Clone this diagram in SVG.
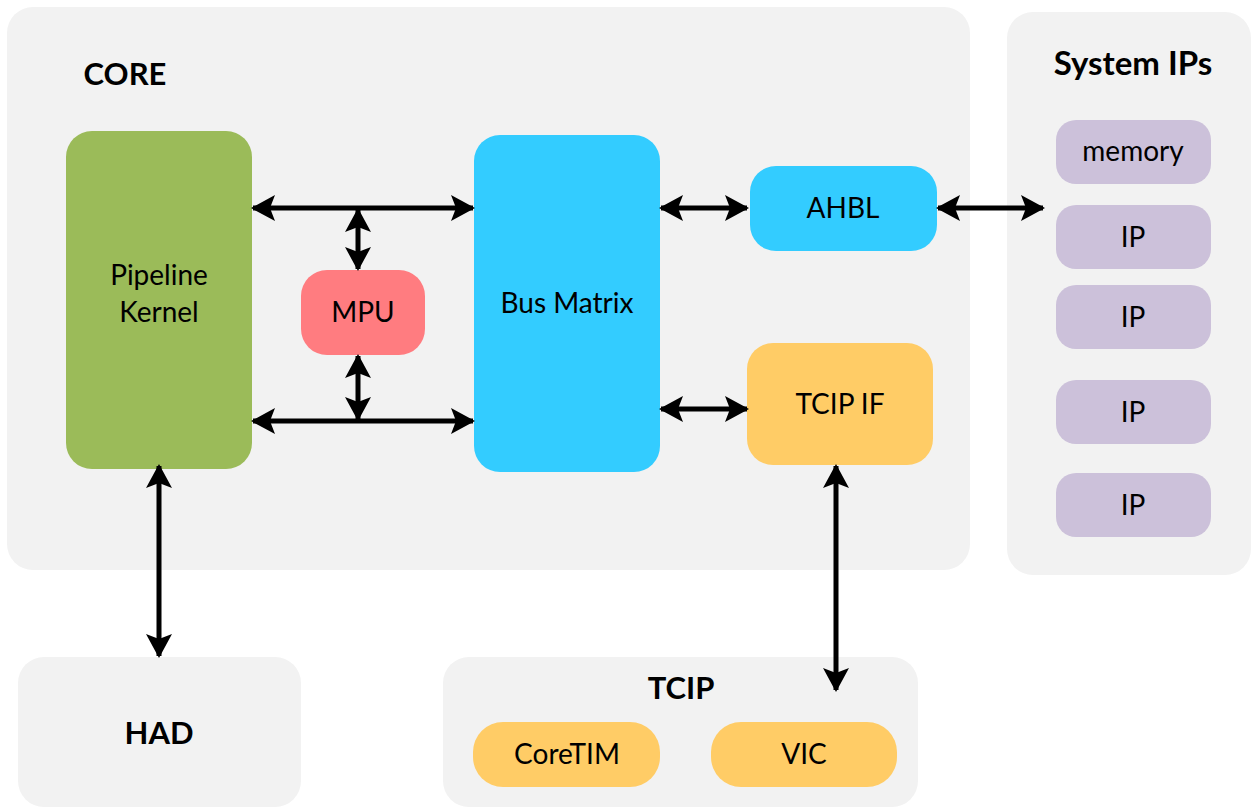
<svg xmlns="http://www.w3.org/2000/svg" width="1252" height="808" viewBox="0 0 1252 808">
<style>
.grp{fill:#f2f2f2}
.t{font-family:Lato,"Open Sans","Liberation Sans",sans-serif;font-size:28px;fill:#000;text-anchor:middle}
.tb{font-family:Lato,"Open Sans","Liberation Sans",sans-serif;font-size:31px;font-weight:bold;fill:#000;text-anchor:middle}
.ln{stroke:#000;stroke-width:5;fill:none;marker-start:url(#ah);marker-end:url(#ah)}
</style>
<defs>
<marker id="ah" markerUnits="userSpaceOnUse" viewBox="0 0 24 26" refX="22" refY="13" markerWidth="24" markerHeight="26" orient="auto-start-reverse">
<path d="M0,0 L24,13 L0,26 L5,13 z" fill="#000"/>
</marker>
</defs>
<rect width="1252" height="808" fill="#fff"/>
<g id="core">
<rect class="grp" x="7" y="7" width="963" height="563" rx="26"/>
<text class="tb" x="125" y="85">CORE</text>
</g>
<g id="system-ips">
<rect class="grp" x="1007" y="12" width="244" height="563" rx="26"/>
<text class="tb" x="1133" y="75" style="font-size:33px">System IPs</text>
</g>
<g id="had">
<rect class="grp" x="18" y="657" width="283" height="150" rx="26"/>
<text class="tb" x="159" y="744">HAD</text>
</g>
<g id="tcip">
<rect class="grp" x="443" y="657" width="475" height="150" rx="26"/>
<text class="tb" x="681" y="699">TCIP</text>
</g>
<g id="pipeline-kernel">
<rect x="66" y="131" width="186" height="338" rx="26" fill="#9bbb59"/>
<text class="t" x="159" y="285">Pipeline</text>
<text class="t" x="159" y="322">Kernel</text>
</g>
<g id="mpu">
<rect x="301" y="270" width="124" height="85" rx="26" fill="#ff7c80"/>
<text class="t" x="363" y="322">MPU</text>
</g>
<g id="bus-matrix">
<rect x="474" y="135" width="186" height="337" rx="26" fill="#33ccff"/>
<text class="t" x="567" y="313">Bus Matrix</text>
</g>
<g id="ahbl">
<rect x="750" y="166" width="187" height="85" rx="26" fill="#33ccff"/>
<text class="t" x="843" y="218">AHBL</text>
</g>
<g id="tcip-if">
<rect x="747" y="343" width="186" height="122" rx="26" fill="#ffcc66"/>
<text class="t" x="840" y="414">TCIP IF</text>
</g>
<g id="coretim">
<rect x="473" y="722" width="187" height="65" rx="30" fill="#ffcc66"/>
<text class="t" x="567" y="764">CoreTIM</text>
</g>
<g id="vic">
<rect x="711" y="722" width="186" height="65" rx="30" fill="#ffcc66"/>
<text class="t" x="804" y="764">VIC</text>
</g>
<g id="memory">
<rect x="1056" y="120" width="155" height="64" rx="20" fill="#ccc1da"/>
<text class="t" x="1133" y="161">memory</text>
</g>
<g id="ip1">
<rect x="1056" y="205" width="155" height="64" rx="20" fill="#ccc1da"/>
<text class="t" x="1133" y="247">IP</text>
</g>
<g id="ip2">
<rect x="1056" y="285" width="155" height="64" rx="20" fill="#ccc1da"/>
<text class="t" x="1133" y="327">IP</text>
</g>
<g id="ip3">
<rect x="1056" y="380" width="155" height="64" rx="20" fill="#ccc1da"/>
<text class="t" x="1133" y="422">IP</text>
</g>
<g id="ip4">
<rect x="1056" y="473" width="155" height="64" rx="20" fill="#ccc1da"/>
<text class="t" x="1133" y="515">IP</text>
</g>
<g id="connectors">
<line class="ln" x1="253" y1="208" x2="473" y2="208"/>
<line class="ln" x1="253" y1="421" x2="473" y2="421"/>
<line class="ln" x1="358" y1="210" x2="358" y2="269"/>
<line class="ln" x1="358" y1="356" x2="358" y2="419"/>
<line class="ln" x1="661" y1="208" x2="747" y2="208"/>
<line class="ln" x1="938" y1="208" x2="1043" y2="208"/>
<line class="ln" x1="661" y1="409" x2="747" y2="409"/>
<line class="ln" x1="836" y1="466" x2="836" y2="690"/>
<line class="ln" x1="159" y1="466" x2="159" y2="656"/>
</g>
</svg>
